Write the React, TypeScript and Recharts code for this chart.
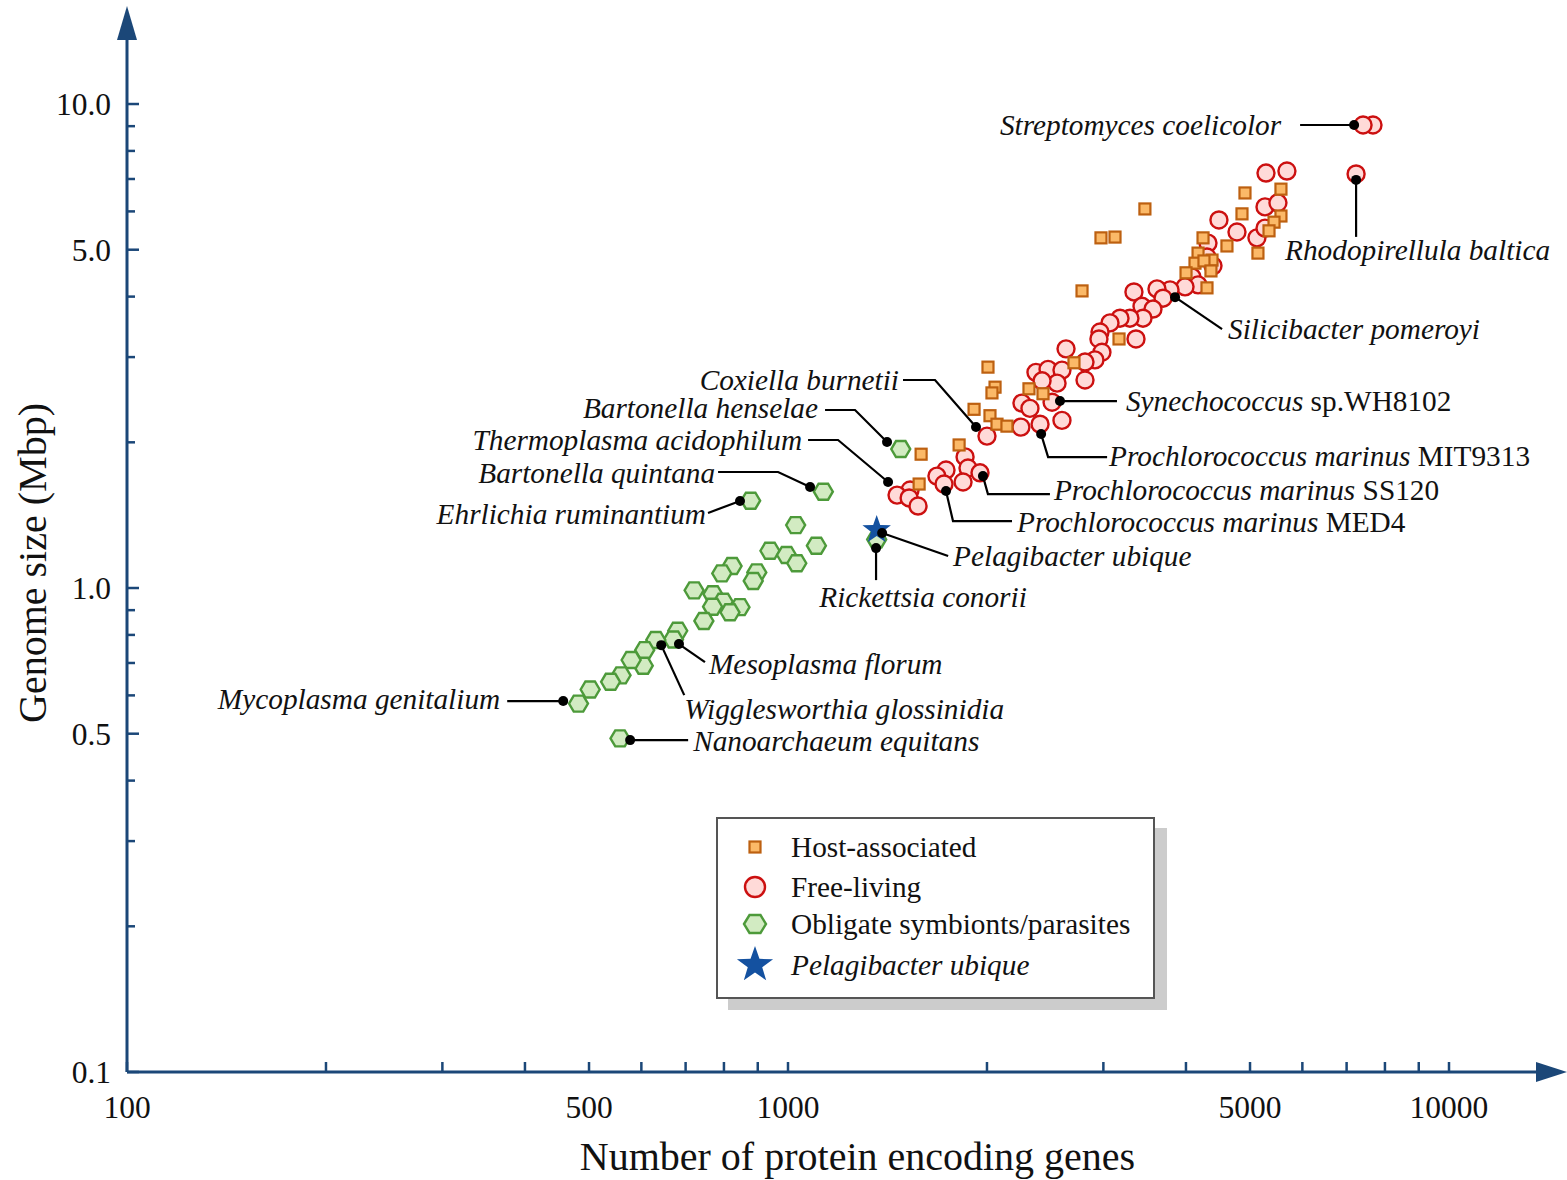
import React from 'react'
import { ScatterChart, Scatter, XAxis, YAxis, ReferenceDot, Label } from 'recharts'

const FONT = '"Liberation Serif", "Times New Roman", serif'
const AXIS = '#1b4778'

// axis ranges and ticks
const X_MIN = 100
const X_MAX = 13730
const Y_MIN = 0.1
const Y_MAX = 13.69
const X_TICKS = [100, 200, 300, 400, 500, 600, 700, 800, 900, 1000, 2000, 3000, 4000, 5000, 6000, 7000, 8000, 9000, 10000]
const X_LABELS = [100, 500, 1000, 5000, 10000]
const Y_TICKS = [0.1, 0.2, 0.3, 0.4, 0.5, 0.6, 0.7, 0.8, 0.9, 1, 2, 3, 4, 5, 6, 7, 8, 9, 10]
const Y_LABELS = [0.1, 0.5, 1, 5, 10]

// free-living
const FREE_GENES = [7674, 7413, 7235, 5686, 5286, 5268, 5511, 4487, 4778, 5122, 5268, 4319, 4304, 4395, 4086, 4172, 3987, 3784, 3616, 3337, 3693, 3432, 3566, 3444, 3291, 3179, 3070, 2965, 2954, 3361, 2985, 2913, 2814, 2634, 2814, 2372, 2474, 2597, 2553, 2423, 2259, 2323, 2509, 2597, 2406, 2251, 2000, 1853, 1872, 1952, 1840, 1734, 1680, 1722, 1530, 1462, 1525, 1573]
const FREE_MBP = [9.05, 9.05, 7.17, 7.27, 7.2, 6.13, 6.25, 5.76, 5.44, 5.29, 5.54, 5.16, 4.83, 4.63, 4.39, 4.23, 4.19, 4.13, 4.15, 4.09, 3.97, 3.82, 3.77, 3.61, 3.61, 3.61, 3.53, 3.38, 3.27, 3.27, 3.07, 2.96, 2.93, 3.12, 2.69, 2.79, 2.83, 2.82, 2.65, 2.68, 2.41, 2.35, 2.42, 2.22, 2.18, 2.15, 2.06, 1.866, 1.77, 1.73, 1.656, 1.753, 1.703, 1.64, 1.594, 1.556, 1.535, 1.477]

// host-associated
const HOST_GENES = [2007, 2057, 2035, 1912, 2021, 2071, 2144, 1590, 1815, 1579, 2315, 2431, 2708, 2785, 3168, 3467, 2975, 3124, 4913, 5569, 4862, 5569, 5436, 5342, 5140, 4614, 4245, 4172, 4128, 4380, 4259, 4364, 4001, 4304]
const HOST_MBP = [2.86, 2.6, 2.53, 2.34, 2.27, 2.18, 2.16, 1.89, 1.975, 1.64, 2.58, 2.52, 2.92, 4.11, 3.27, 6.07, 5.29, 5.31, 6.55, 6.67, 5.93, 5.87, 5.7, 5.47, 4.92, 5.09, 5.29, 4.92, 4.69, 4.76, 4.74, 4.52, 4.48, 4.17]

// obligate symbionts / parasites
const OBLIGATE_GENES = [1131, 878, 1027, 1104, 939, 995, 1031, 823, 794, 897, 886, 721, 770, 798, 769, 846, 817, 746, 681, 671, 631, 607, 604, 579, 559, 539, 502, 482, 557, 1481, 1362]
const OBLIGATE_MBP = [1.581, 1.515, 1.349, 1.223, 1.194, 1.17, 1.125, 1.11, 1.072, 1.077, 1.034, 0.989, 0.971, 0.937, 0.915, 0.913, 0.891, 0.855, 0.816, 0.783, 0.781, 0.744, 0.691, 0.71, 0.66, 0.64, 0.617, 0.577, 0.489, 1.937, 1.26]

const PELAGI_GENES = [1362]
const PELAGI_MBP = [1.318]

// labelled genomes
const ANNOT_NAMES = ['Streptomyces coelicolor', 'Rhodopirellula baltica', 'Silicibacter pomeroyi', 'Synechococcus', 'Prochlorococcus marinus', 'Prochlorococcus marinus', 'Prochlorococcus marinus', 'Pelagibacter ubique', 'Rickettsia conorii', 'Coxiella burnetii', 'Bartonella henselae', 'Thermoplasma acidophilum', 'Bartonella quintana', 'Ehrlichia ruminantium', 'Mycoplasma genitalium', 'Mesoplasma florum', 'Wigglesworthia glossinidia', 'Nanoarchaeum equitans']
const ANNOT_SUFFIX = ['', '', '', ' sp.WH8102', ' MIT9313', ' SS120', ' MED4', '', '', '', '', '', '', '', '', '', '', '']
const ANNOT_GENES = [7185, 7235, 3851, 2579, 2415, 1972, 1734, 1388, 1359, 1925, 1412, 1417, 1080, 846, 457, 684, 643, 577]
const ANNOT_MBP = [9.05, 6.97, 3.99, 2.434, 2.08, 1.703, 1.586, 1.299, 1.209, 2.151, 2.003, 1.656, 1.617, 1.513, 0.584, 0.766, 0.762, 0.485]

// leader line offsets (px from the dot) and label placement
const ANNOT_LAYOUT: { path: number[][]; tx: number; ty: number; anchor: 'start' | 'end' | 'middle' }[] = [
  { path: [[-54, 0]], tx: -73, ty: 0, anchor: 'end' },
  { path: [[0, 57]], tx: -71, ty: 70, anchor: 'start' },
  { path: [[47, 32]], tx: 53, ty: 32, anchor: 'start' },
  { path: [[57, 0]], tx: 66, ty: 0, anchor: 'start' },
  { path: [[7, 23], [66, 23]], tx: 68, ty: 22, anchor: 'start' },
  { path: [[5, 18], [67, 18]], tx: 71, ty: 14, anchor: 'start' },
  { path: [[7, 30], [66, 30]], tx: 71, ty: 31, anchor: 'start' },
  { path: [[66, 23]], tx: 71, ty: 23, anchor: 'start' },
  { path: [[0, 32]], tx: 47, ty: 49, anchor: 'middle' },
  { path: [[-41, -47], [-73, -47]], tx: -77, ty: -47, anchor: 'end' },
  { path: [[-32, -32], [-62, -32]], tx: -69, ty: -34, anchor: 'end' },
  { path: [[-50, -42], [-80, -42]], tx: -86, ty: -42, anchor: 'end' },
  { path: [[-32, -15], [-92, -15]], tx: -95, ty: -14, anchor: 'end' },
  { path: [[-32, 12]], tx: -34, ty: 13, anchor: 'end' },
  { path: [[-56, 0]], tx: -63, ty: -2, anchor: 'end' },
  { path: [[26, 18]], tx: 30, ty: 20, anchor: 'start' },
  { path: [[23, 50]], tx: 23, ty: 64, anchor: 'start' },
  { path: [[58, 0]], tx: 63, ty: 1, anchor: 'start' },
]

const pts = (g: number[], m: number[]) => g.map((genes, i) => ({ genes, mbp: m[i] }))
const freeData = pts(FREE_GENES, FREE_MBP)
const hostData = pts(HOST_GENES, HOST_MBP)
const obligateData = pts(OBLIGATE_GENES, OBLIGATE_MBP)
const pelagiData = pts(PELAGI_GENES, PELAGI_MBP)
const annotData = ANNOT_GENES.map((genes, i) => ({ genes, mbp: ANNOT_MBP[i], idx: i }))

const starPoints = (cx: number, cy: number, R: number, r: number) =>
  Array.from({ length: 10 }, (_, i) => {
    const a = -Math.PI / 2 + (i * Math.PI) / 5
    const rad = i % 2 === 0 ? R : r
    return `${cx + rad * Math.cos(a)},${cy + rad * Math.sin(a)}`
  }).join(' ')

const hexPoints = (cx: number, cy: number, w: number, h: number) =>
  [[-w, 0], [-w / 2, -h], [w / 2, -h], [w, 0], [w / 2, h], [-w / 2, h]]
    .map(([dx, dy]) => `${cx + dx},${cy + dy}`)
    .join(' ')

const SquareMark = ({ cx, cy, s = 5.5 }: any) => (
  <rect x={cx - s} y={cy - s} width={2 * s} height={2 * s} fill="#fbb968" stroke="#bd6010" strokeWidth={2.2} />
)
const CircleMark = ({ cx, cy, r = 8.5 }: any) => (
  <circle cx={cx} cy={cy} r={r} fill="#ffdad8" stroke="#cc1010" strokeWidth={2.4} />
)
const HexMark = ({ cx, cy, w = 9.5, h = 8 }: any) => (
  <polygon points={hexPoints(cx, cy, w, h)} fill="#d2ebc2" stroke="#4d9a3a" strokeWidth={2.4} />
)
const StarMark = ({ cx, cy, R = 15, r = 6 }: any) => (
  <polygon points={starPoints(cx, cy, R, r)} fill="#1451a0" />
)

const AnnotMark = ({ cx, cy, payload }: any) => {
  const i = payload.idx
  const lay = ANNOT_LAYOUT[i]
  const line = [[0, 0], ...lay.path].map(([dx, dy]) => `${cx + dx},${cy + dy}`).join(' ')
  return (
    <g>
      <polyline points={line} fill="none" stroke="#000" strokeWidth={2.2} />
      <circle cx={cx} cy={cy} r={5} fill="#000" />
      <text x={cx + lay.tx} y={cy + lay.ty} dy="0.35em" textAnchor={lay.anchor} fontFamily={FONT} fontSize={29.3} fill="#111">
        <tspan fontStyle="italic">{ANNOT_NAMES[i]}</tspan>
        {ANNOT_SUFFIX[i] && <tspan>{ANNOT_SUFFIX[i]}</tspan>}
      </text>
    </g>
  )
}

const XTick = ({ x, y, payload }: any) => {
  const v = payload.value
  return (
    <g>
      <line x1={x} x2={x} y1={y} y2={y - 10} stroke={AXIS} strokeWidth={2.5} />
      {X_LABELS.includes(v) && (
        <text x={x} y={y + 46} textAnchor="middle" fontFamily={FONT} fontSize={31.5} fill="#111">{v}</text>
      )}
    </g>
  )
}

const YTick = ({ x, y, payload }: any) => {
  const v = payload.value
  const major = Y_LABELS.includes(v)
  return (
    <g>
      <line x1={x} x2={x + (major ? 12 : 8)} y1={y} y2={y} stroke={AXIS} strokeWidth={2.5} />
      {major && (
        <text x={x - 16} y={y} dy="0.35em" textAnchor="end" fontFamily={FONT} fontSize={31.5} fill="#111">{v.toFixed(1)}</text>
      )}
    </g>
  )
}

const XArrow = ({ cx, cy }: any) => (
  <polygon points={`${cx - 4},${cy - 10} ${cx + 27},${cy} ${cx - 4},${cy + 10}`} fill={AXIS} />
)
const YArrow = ({ cx, cy }: any) => (
  <polygon points={`${cx - 10},${cy + 2} ${cx},${cy - 32} ${cx + 10},${cy + 2}`} fill={AXIS} />
)

const XTitle = ({ viewBox }: any) => (
  <text x={viewBox.x + viewBox.width / 2 + 24} y={viewBox.y + 98} textAnchor="middle" fontFamily={FONT} fontSize={40} fill="#111">
    Number of protein encoding genes
  </text>
)
const YTitle = ({ viewBox }: any) => {
  const x = viewBox.x + 46
  const y = viewBox.y + viewBox.height / 2 + 8
  return (
    <text x={x} y={y} transform={`rotate(-90, ${x}, ${y})`} textAnchor="middle" fontFamily={FONT} fontSize={40} fill="#111">
      Genome size (Mbp)
    </text>
  )
}

const LEGEND_ITEMS = ['Host-associated', 'Free-living', 'Obligate symbionts/parasites', 'Pelagibacter ubique']

const LegendBox = () => {
  const rows = [28, 68, 105, 146]
  return (
    <div
      style={{
        position: 'absolute', left: 716, top: 817, width: 435, height: 178,
        border: '2px solid #555', background: '#fff', boxShadow: '12px 11px 0 #cccccc',
      }}
    >
      <svg width={435} height={178}>
        <SquareMark cx={37} cy={rows[0]} s={5.5} />
        <CircleMark cx={37} cy={rows[1]} r={10} />
        <HexMark cx={37} cy={rows[2]} w={11} h={9} />
        <StarMark cx={37} cy={rows[3]} R={19} r={7.6} />
        {LEGEND_ITEMS.map((t, i) => (
          <text key={t} x={73} y={rows[i]} dy="0.35em" fontFamily={FONT} fontSize={29.3} fill="#111" fontStyle={i === 3 ? 'italic' : 'normal'}>
            {t}
          </text>
        ))}
      </svg>
    </div>
  )
}

export default function App() {
  return (
    <div style={{ position: 'absolute', left: 0, top: 0, width: 1567, height: 1180, background: '#fff' }}>
      <ScatterChart width={1567} height={1180} margin={{ top: 38, right: 27, bottom: 0, left: 0 }}>
        <XAxis
          type="number"
          dataKey="genes"
          scale="log"
          domain={[X_MIN, X_MAX]}
          ticks={X_TICKS}
          interval={0}
          tick={(p: any) => <XTick {...p} />}
          tickLine={false}
          tickSize={0}
          tickMargin={0}
          axisLine={{ stroke: AXIS, strokeWidth: 3 }}
          height={108}
        >
          <Label content={(p: any) => <XTitle {...p} />} />
        </XAxis>
        <YAxis
          type="number"
          dataKey="mbp"
          scale="log"
          domain={[Y_MIN, Y_MAX]}
          ticks={Y_TICKS}
          interval={0}
          tick={(p: any) => <YTick {...p} />}
          tickLine={false}
          tickSize={0}
          tickMargin={0}
          axisLine={{ stroke: AXIS, strokeWidth: 3 }}
          width={127}
        >
          <Label content={(p: any) => <YTitle {...p} />} />
        </YAxis>
        <Scatter data={obligateData} shape={(p: any) => <HexMark cx={p.cx} cy={p.cy} />} isAnimationActive={false} />
        <Scatter data={freeData} shape={(p: any) => <CircleMark cx={p.cx} cy={p.cy} />} isAnimationActive={false} />
        <Scatter data={hostData} shape={(p: any) => <SquareMark cx={p.cx} cy={p.cy} />} isAnimationActive={false} />
        <Scatter data={pelagiData} shape={(p: any) => <StarMark cx={p.cx} cy={p.cy} />} isAnimationActive={false} />
        <Scatter data={annotData} shape={(p: any) => <AnnotMark {...p} />} isAnimationActive={false} />
        <ReferenceDot x={X_MAX} y={Y_MIN} r={0} shape={(p: any) => <XArrow {...p} />} />
        <ReferenceDot x={X_MIN} y={Y_MAX} r={0} shape={(p: any) => <YArrow {...p} />} />
      </ScatterChart>
      <LegendBox />
    </div>
  )
}
